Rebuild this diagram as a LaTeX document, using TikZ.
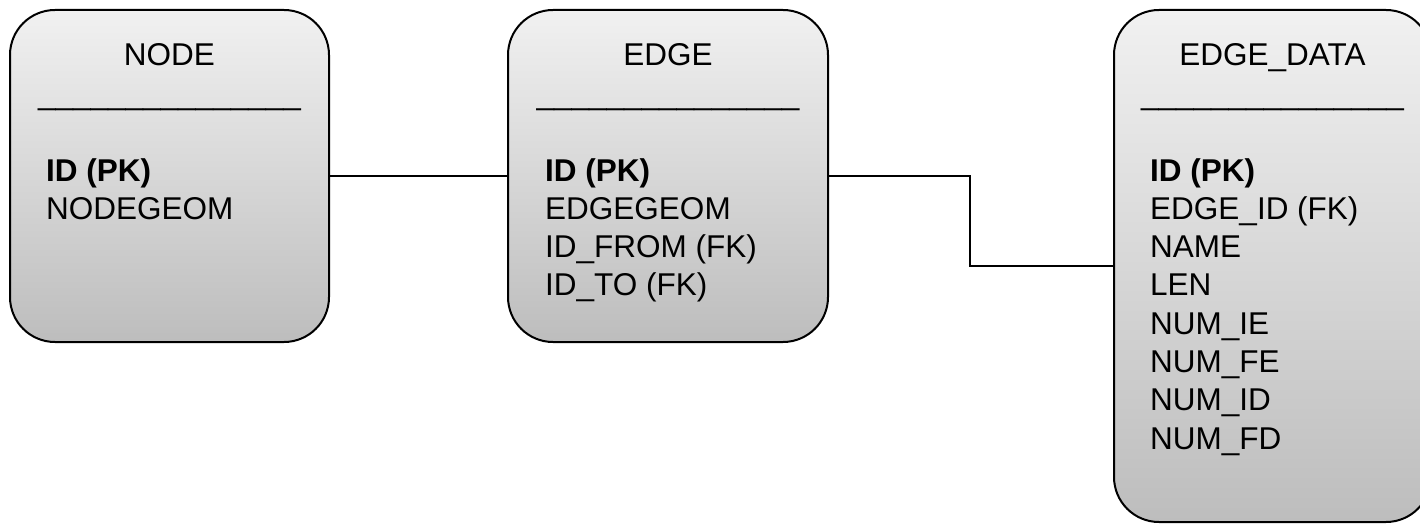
\documentclass[tikz,border=0pt]{standalone}
\usepackage{fontspec}
\setmainfont{Liberation Sans}
\definecolor{boxtop}{RGB}{241,241,241}
\definecolor{boxbottom}{RGB}{189,189,189}
\tikzset{
  entity/.style={draw=black, line width=2pt, rounded corners=45pt,
    top color=boxtop, bottom color=boxbottom, inner sep=0pt},
  link/.style={draw=black, line width=2pt},
  label/.style={inner sep=0pt, font=\fontsize{31.5}{38.3}\selectfont},
}
\newcommand{\fieldlist}[1]{\begin{tabular}[t]{@{}l@{}}#1\end{tabular}}
\begin{document}
\begin{tikzpicture}[x=1pt, y=-1pt]
  \path[use as bounding box, clip] (0,0) rectangle (1420,524);

  % entity boxes
  \node[entity, minimum width=319pt, minimum height=332pt] (nodebox) at (169.5,176) {};
  \node[entity, minimum width=320pt, minimum height=332pt] (edgebox) at (668,176) {};
  \node[entity, minimum width=317pt, minimum height=512pt] (databox) at (1272.5,266) {};

  % NODE table
  \node[label, anchor=base] (nodetitle) at (169.5,66) {NODE};
  \node[label, anchor=base] (noderule) at (169.5,104.3) {\_\_\_\_\_\_\_\_\_\_\_\_\_\_\_};
  \node[label, anchor=base west] (nodefields) at (46,181) {\fieldlist{\textbf{ID (PK)}\\ NODEGEOM}};

  % EDGE table
  \node[label, anchor=base] (edgetitle) at (668,66) {EDGE};
  \node[label, anchor=base] (edgerule) at (668,104.3) {\_\_\_\_\_\_\_\_\_\_\_\_\_\_\_};
  \node[label, anchor=base west] (edgefields) at (545,181) {\fieldlist{\textbf{ID (PK)}\\ EDGEGEOM\\ ID\_FROM (FK)\\ ID\_TO (FK)}};

  % EDGE_DATA table
  \node[label, anchor=base] (datatitle) at (1272.5,66) {EDGE\_DATA};
  \node[label, anchor=base] (datarule) at (1272.5,104.3) {\_\_\_\_\_\_\_\_\_\_\_\_\_\_\_};
  \node[label, anchor=base west] (datafields) at (1150,181) {\fieldlist{\textbf{ID (PK)}\\ EDGE\_ID (FK)\\ NAME\\ LEN\\ NUM\_IE\\ NUM\_FE\\ NUM\_ID\\ NUM\_FD}};

  % relationships
  \draw[link] (nodebox.east) -- (edgebox.west);
  \coordinate (elbow) at (970,0);
  \draw[link] (edgebox.east) -- (elbow |- edgebox.east) -- (elbow |- databox.west) -- (databox.west);
\end{tikzpicture}
\end{document}
